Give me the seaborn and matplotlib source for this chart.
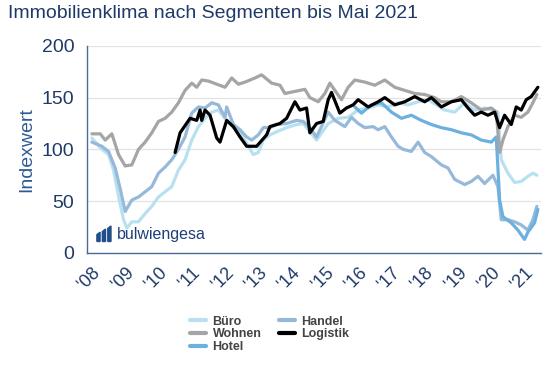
import numpy as np
import pandas as pd
import matplotlib
matplotlib.use("Agg")
import matplotlib.pyplot as plt
import seaborn as sns
from matplotlib.lines import Line2D
from matplotlib.patches import Polygon

sns.set_theme(style="white")
plt.rcParams['font.family'] = ['Liberation Sans', 'DejaVu Sans']

# ---- data (fractional years, index values) ----
wohnen_x = [2008.0, 2008.25, 2008.4, 2008.5, 2008.6, 2008.8, 2009.0, 2009.2, 2009.4, 2009.6, 2009.8,
            2010.0, 2010.2, 2010.4, 2010.6, 2010.8, 2011.0, 2011.15, 2011.3, 2011.5, 2011.75, 2012.0,
            2012.2, 2012.4, 2012.6, 2012.9, 2013.1, 2013.4, 2013.65, 2013.8, 2014.1, 2014.4, 2014.55,
            2014.8, 2015.0, 2015.15, 2015.3, 2015.5, 2015.7, 2015.9, 2016.2, 2016.5, 2016.8, 2017.1,
            2017.4, 2017.7, 2018.0, 2018.3, 2018.5, 2018.8, 2019.1, 2019.4, 2019.7, 2020.0, 2020.15,
            2020.25, 2020.35, 2020.5, 2020.7, 2020.9, 2021.1, 2021.25, 2021.37]
wohnen_y = [115, 115, 109, 112, 115, 95, 84, 85, 100, 107, 116,
            127, 130, 136, 145, 157, 164, 160, 167, 166, 163, 160,
            169, 163, 165, 169, 172, 164, 162, 154, 156, 158, 150,
            146, 154, 164, 157, 148, 160, 167, 165, 162, 167, 160,
            157, 154, 153, 150, 146, 146, 151, 145, 138, 140, 136,
            97, 109, 122, 133, 131, 136, 145, 153]

buero_x = [2008.0, 2008.3, 2008.5, 2008.65, 2008.8, 2008.95, 2009.05, 2009.2, 2009.4, 2009.6, 2009.8, 2010.0,
           2010.2, 2010.4, 2010.6, 2010.8, 2011.0, 2011.2, 2011.4, 2011.6, 2011.8, 2012.05, 2012.25,
           2012.45, 2012.65, 2012.85, 2013.0, 2013.15, 2013.35, 2013.55, 2013.85, 2014.15, 2014.35,
           2014.55, 2014.75, 2015.1, 2015.4, 2015.7, 2016.0, 2016.3, 2016.6, 2016.9, 2017.2, 2017.5,
           2017.8, 2018.1, 2018.3, 2018.6, 2018.9, 2019.2, 2019.5, 2019.8, 2020.0, 2020.2, 2020.3,
           2020.5, 2020.7, 2020.9, 2021.1, 2021.25, 2021.37]
buero_y = [111, 100, 95, 80, 55, 32, 24, 30, 30, 38, 45, 54,
           59, 64, 80, 90, 109, 122, 130, 136, 138, 128, 121,
           116, 106, 95, 97, 109, 114, 117, 121, 124, 125,
           117, 109, 125, 130, 131, 138, 140, 143, 141, 145, 143,
           146, 148, 144, 138, 136, 145, 138, 140, 138, 136, 90,
           77, 68, 69, 74, 77, 75]

hotel_x = [2015.9, 2016.1, 2016.4, 2016.7, 2017.0, 2017.3, 2017.6, 2017.9, 2018.2, 2018.5, 2018.8,
           2019.1, 2019.4, 2019.7, 2020.0, 2020.15, 2020.25, 2020.35, 2020.6, 2020.8, 2021.0, 2021.1,
           2021.3, 2021.4]
hotel_y = [141, 135, 143, 145, 136, 130, 133, 128, 124, 121, 119,
           116, 114, 109, 107, 112, 51, 35, 29, 22, 13, 20,
           29, 42]

handel_x = [2008.0, 2008.3, 2008.5, 2008.7, 2008.85, 2009.0, 2009.2, 2009.4, 2009.6, 2009.8, 2010.0,
            2010.2, 2010.4, 2010.6, 2010.8, 2011.0, 2011.2, 2011.4, 2011.6, 2011.8, 2012.0, 2012.05,
            2012.25, 2012.45, 2012.65, 2012.8, 2013.0, 2013.15, 2013.35, 2013.55, 2013.85, 2014.15,
            2014.35, 2014.55, 2014.75, 2015.1, 2015.3, 2015.6, 2015.8, 2016.0, 2016.2, 2016.45, 2016.6,
            2016.8, 2017.0, 2017.2, 2017.35, 2017.6, 2017.8, 2018.0, 2018.2, 2018.5, 2018.7, 2018.9,
            2019.2, 2019.4, 2019.6, 2019.8, 2020.05, 2020.2, 2020.3, 2020.5, 2020.7, 2020.9, 2021.1,
            2021.25, 2021.37]
handel_y = [107, 103, 98, 82, 62, 40, 51, 54, 59, 64, 77,
            83, 90, 100, 112, 135, 141, 140, 145, 143, 131, 141,
            124, 119, 112, 109, 114, 121, 121, 124, 125, 128,
            127, 121, 112, 136, 128, 122, 131, 125, 121, 122, 119,
            122, 112, 103, 100, 98, 107, 97, 93, 85, 82, 71,
            66, 69, 74, 67, 75, 64, 32, 32, 30, 27, 22,
            32, 45]

logistik_x = [2010.5, 2010.65, 2010.95, 2011.15, 2011.25, 2011.3, 2011.4, 2011.55, 2011.75, 2011.85,
              2012.05, 2012.25, 2012.45, 2012.65, 2012.95, 2013.25, 2013.35, 2013.65, 2013.85, 2014.1,
              2014.25, 2014.45, 2014.55, 2014.75, 2014.95, 2015.1, 2015.2, 2015.45, 2015.65, 2015.85,
              2016.0, 2016.3, 2016.6, 2016.8, 2017.1, 2017.4, 2017.7, 2018.0, 2018.2, 2018.5, 2018.8,
              2019.1, 2019.3, 2019.5, 2019.7, 2019.9, 2020.1, 2020.25, 2020.4, 2020.6, 2020.75, 2020.9,
              2021.05, 2021.2, 2021.4]
logistik_y = [97, 116, 130, 128, 138, 128, 138, 133, 111, 107,
              128, 122, 112, 103, 103, 114, 122, 125, 130, 146,
              138, 140, 116, 125, 127, 148, 155, 135, 140, 143,
              148, 141, 146, 150, 143, 146, 151, 146, 150, 141, 146,
              148, 140, 133, 136, 133, 136, 121, 133, 124, 141, 138,
              148, 151, 160]

series = [("Büro", buero_x, buero_y), ("Wohnen", wohnen_x, wohnen_y),
          ("Hotel", hotel_x, hotel_y), ("Handel", handel_x, handel_y),
          ("Logistik", logistik_x, logistik_y)]
colors = {"Büro": "#b7e1f1", "Wohnen": "#a5a5a5", "Hotel": "#6cb0e0",
          "Handel": "#97b9d9", "Logistik": "#000000"}
draw_order = ["Büro", "Handel", "Hotel", "Wohnen", "Logistik"]

year_ticks = list(range(2008, 2022))
year_labels = ["'%02d" % (y % 100) for y in year_ticks]

frames = [pd.DataFrame({"Jahr": x, "Wert": y, "Segment": n}) for n, x, y in series]
df = pd.concat(frames, ignore_index=True)

navy = "#1f3a68"

fig = plt.figure(figsize=(5.5, 3.67), dpi=100)
ax = fig.add_axes([0.158, 0.311, 0.826, 0.564])

for name in draw_order:
    sub = df[df["Segment"] == name]
    sns.lineplot(data=sub, x="Jahr", y="Wert", ax=ax, color=colors[name],
                 linewidth=2.3, sort=False, estimator=None, legend=False)

ax.set_xlim(2007.85, 2021.5)
ax.set_ylim(0, 200)
ax.set_yticks([0, 50, 100, 150, 200])
ax.yaxis.grid(True, color="#e3e3e3", linewidth=0.9)
ax.set_axisbelow(True)
ax.set_xticks(year_ticks)
ax.set_xticklabels(year_labels, rotation=45, ha="right", va="top",
                   rotation_mode="anchor", fontsize=13, color=navy)
ax.tick_params(axis="x", direction="out", length=5, width=1, color="#4a6a9a", pad=3)
ax.tick_params(axis="y", length=0, labelsize=14, labelcolor=navy, pad=9)
for s in ["top", "right"]:
    ax.spines[s].set_visible(False)
for s in ["left", "bottom"]:
    ax.spines[s].set_color("#4a6a9a")
    ax.spines[s].set_linewidth(1.0)
ax.set_xlabel("")
ax.set_ylabel("Indexwert", fontsize=14, color="#2e5b94", labelpad=5)

fig.text(0.014, 0.962, "Immobilienklima nach Segmenten bis Mai 2021",
         fontsize=14, color=navy, va="center", ha="left")

# logo
ax.text(0.066, 0.088, "bulwiengesa", transform=ax.transAxes, fontsize=11.5,
        color="#1f3f78", va="center", ha="left")
for i, (dx, h) in enumerate([(0.0, 0.045), (0.012, 0.06), (0.024, 0.075)]):
    x0 = 0.022 + dx
    poly = Polygon([[x0, 0.055], [x0 + 0.007, 0.055], [x0 + 0.007, 0.055 + h], [x0, 0.055 + h - 0.012]],
                   closed=True, transform=ax.transAxes, color="#1f4f8a")
    ax.add_patch(poly)

handles = [Line2D([0], [0], color=colors[n], lw=3) for n in ["Büro", "Wohnen", "Hotel", "Handel", "Logistik"]]
labels = ["Büro", "Wohnen", "Hotel", "Handel", "Logistik"]
leg = fig.legend(handles, labels, loc="upper left", bbox_to_anchor=(0.325, 0.17), ncol=2,
                 frameon=False, handlelength=1.3, handletextpad=0.5, columnspacing=1.4,
                 labelspacing=0.05, prop={"weight": "bold", "size": 9})
for t in leg.get_texts():
    t.set_color("#444444")

fig.savefig("out.png", dpi=100)
